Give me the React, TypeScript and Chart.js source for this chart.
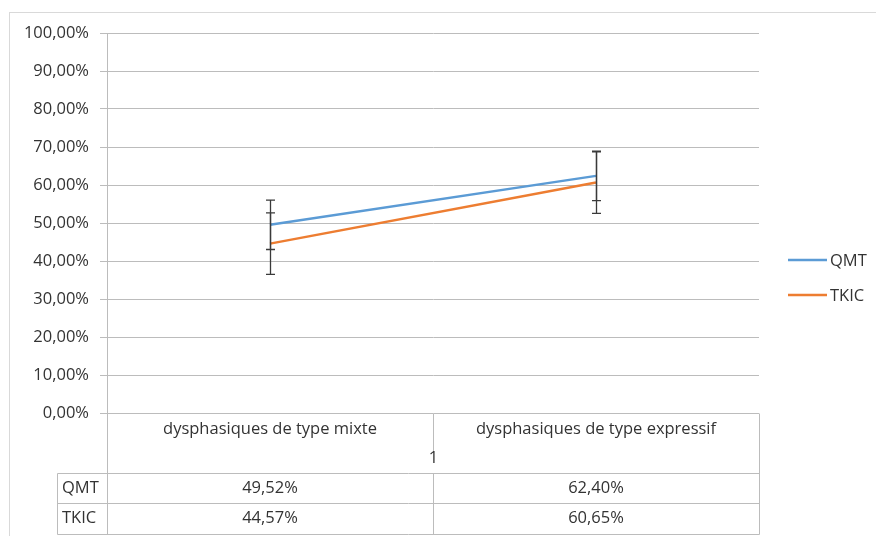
import React, { useEffect, useRef } from 'react';
import { Chart, registerables } from 'chart.js';

Chart.register(...registerables);

const categories = ['dysphasiques de type mixte', 'dysphasiques de type expressif'];
const groupLabel = '1';
const seriesNames = ['QMT', 'TKIC'];
const qmtValues = [49.52, 62.4];
const tkicValues = [44.57, 60.65];
const qmtErrors = [6.5, 6.5];
const tkicErrors = [8.1, 8.1];
const qmtTableLabels = ['49,52%', '62,40%'];
const tkicTableLabels = ['44,57%', '60,65%'];
const yTickLabels = ['0,00%', '10,00%', '20,00%', '30,00%', '40,00%', '50,00%', '60,00%', '70,00%', '80,00%', '90,00%', '100,00%'];
const seriesColors = ['#5B9BD5', '#ED7D31'];

const FONT = '"Open Sans", sans-serif';
const FONT_SIZE = 16.5;
const TEXT = '#333333';
const GRID = '#bcbcbc';

export default function App() {
  const ref = useRef<HTMLCanvasElement>(null);

  useEffect(() => {
    const canvas = ref.current!;
    const seriesValues = [qmtValues, tkicValues];
    const seriesErrors = [qmtErrors, tkicErrors];
    const tableLabels = [qmtTableLabels, tkicTableLabels];

    const overlay = {
      id: 'overlay',
      beforeDraw(chart: any) {
        const ctx = chart.ctx;
        ctx.save();
        ctx.fillStyle = '#ffffff';
        ctx.fillRect(0, 0, chart.width, chart.height);
        ctx.strokeStyle = '#d9d9d9';
        ctx.lineWidth = 1;
        ctx.strokeRect(9.5, 12.5, chart.width, chart.height);
        ctx.restore();
      },
      afterDatasetsDraw(chart: any) {
        const ctx = chart.ctx;
        const xs = chart.scales.x;
        const ys = chart.scales.y;
        ctx.save();
        ctx.strokeStyle = '#3a3a3a';
        ctx.lineWidth = 1.3;
        seriesValues.forEach((vals, s) => {
          vals.forEach((v, i) => {
            const px = Math.round(xs.getPixelForValue(i)) + 0.5;
            const top = ys.getPixelForValue(v + seriesErrors[s][i]);
            const bot = ys.getPixelForValue(v - seriesErrors[s][i]);
            ctx.beginPath();
            ctx.moveTo(px, top);
            ctx.lineTo(px, bot);
            ctx.moveTo(px - 4.5, top);
            ctx.lineTo(px + 4.5, top);
            ctx.moveTo(px - 4.5, bot);
            ctx.lineTo(px + 4.5, bot);
            ctx.stroke();
          });
        });
        ctx.restore();
      },
      afterDraw(chart: any) {
        const ctx = chart.ctx;
        const area = chart.chartArea;
        const xs = chart.scales.x;
        const left = Math.round(area.left) + 0.5;
        const right = Math.round(area.right) + 0.5;
        const mid = Math.round((area.left + area.right) / 2) + 0.5;
        const top = Math.round(area.bottom) + 0.5;
        const row1 = top + 60;
        const row2 = row1 + 30;
        const row3 = row2 + 31;
        const labelLeft = 57.5;

        ctx.save();
        ctx.strokeStyle = GRID;
        ctx.lineWidth = 1;
        ctx.beginPath();
        ctx.moveTo(left, top);
        ctx.lineTo(left, row3);
        ctx.moveTo(right, top);
        ctx.lineTo(right, row3);
        ctx.moveTo(mid, top);
        ctx.lineTo(mid, top + 39);
        ctx.moveTo(mid, row1);
        ctx.lineTo(mid, row3);
        ctx.moveTo(labelLeft, row1);
        ctx.lineTo(labelLeft, row3);
        [row1, row2, row3].forEach((r) => {
          ctx.moveTo(labelLeft, r);
          ctx.lineTo(right, r);
        });
        ctx.stroke();

        ctx.fillStyle = TEXT;
        ctx.font = `${FONT_SIZE}px ${FONT}`;
        ctx.textBaseline = 'middle';
        ctx.textAlign = 'center';
        categories.forEach((c, i) => {
          ctx.fillText(c, xs.getPixelForValue(i), top + 16);
        });
        ctx.fillText(groupLabel, mid, top + 45);
        tableLabels.forEach((labels, s) => {
          const cy = s === 0 ? (row1 + row2) / 2 : (row2 + row3) / 2 - 1;
          labels.forEach((t, i) => {
            ctx.fillText(t, xs.getPixelForValue(i), cy);
          });
        });
        ctx.textAlign = 'left';
        seriesNames.forEach((n, s) => {
          const cy = s === 0 ? (row1 + row2) / 2 : (row2 + row3) / 2 - 1;
          ctx.fillText(n, 62, cy);
        });

        seriesNames.forEach((n, s) => {
          const ly = 260 + s * 35;
          ctx.strokeStyle = seriesColors[s];
          ctx.lineWidth = 2.5;
          ctx.beginPath();
          ctx.moveTo(788, ly);
          ctx.lineTo(827, ly);
          ctx.stroke();
          ctx.fillStyle = TEXT;
          ctx.fillText(n, 830, ly + 1);
        });
        ctx.restore();
      },
    };

    const chart = new Chart(canvas, {
      type: 'line',
      data: {
        labels: categories,
        datasets: seriesNames.map((name, s) => ({
          label: name,
          data: seriesValues[s],
          borderColor: seriesColors[s],
          backgroundColor: seriesColors[s],
          borderWidth: 2.5,
          pointRadius: 0,
          tension: 0,
          fill: false,
        })),
      },
      options: {
        animation: false,
        responsive: false,
        devicePixelRatio: 1,
        layout: { padding: { left: 0, top: 33, right: 117, bottom: 123 } },
        plugins: {
          legend: { display: false },
          tooltip: { enabled: false },
        },
        scales: {
          x: {
            type: 'category',
            offset: true,
            display: false,
          },
          y: {
            min: 0,
            max: 100,
            afterFit(scale: any) {
              scale.width = 107;
            },
            ticks: {
              stepSize: 10,
              padding: 11,
              color: TEXT,
              font: { family: FONT, size: FONT_SIZE },
              callback: (_v: any, i: number) => yTickLabels[i],
            },
            grid: {
              color: GRID,
              lineWidth: 1,
              drawTicks: true,
              tickLength: 7,
            },
            border: { display: true, color: GRID, width: 1 },
          },
        },
      },
      plugins: [overlay],
    });

    return () => chart.destroy();
  }, []);

  return (
    <div style={{ position: 'absolute', left: 0, top: 0, width: 876, height: 536 }}>
      <canvas ref={ref} width={876} height={536} style={{ display: 'block' }} />
    </div>
  );
}
